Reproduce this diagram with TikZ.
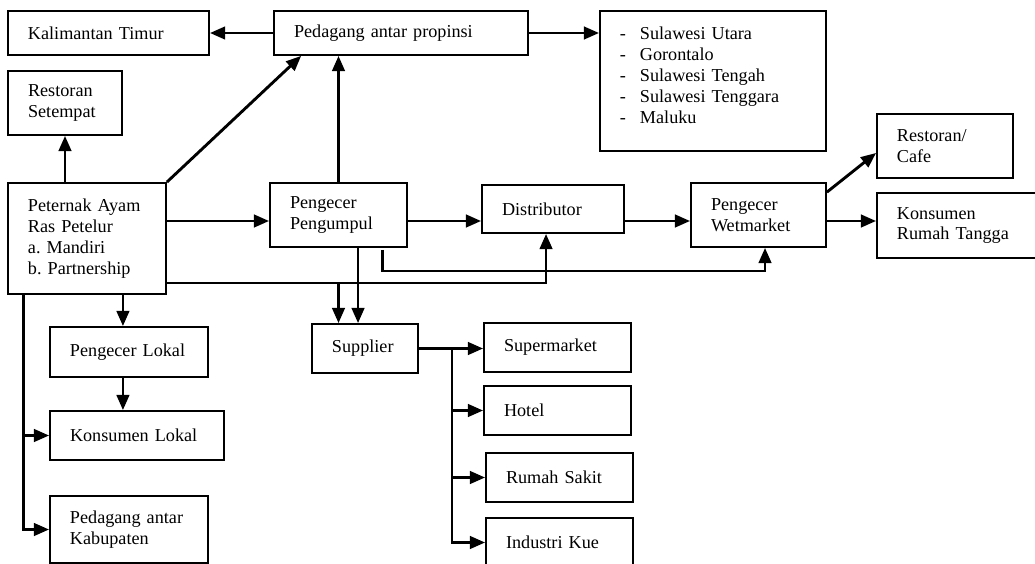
\documentclass[tikz,border=0pt]{standalone}
\usepackage{fontspec}
\setmainfont{Liberation Serif}
\usetikzlibrary{arrows.meta}
\frenchspacing
\begin{document}
\begin{tikzpicture}[x=0.66pt,y=-0.66pt,font=\fontsize{12}{13.8}\selectfont,
  blok/.style={shape=rectangle,draw,line width=1.2pt,align=left,inner xsep=13.2pt},
  arr/.style={-{Triangle[length=10pt,width=8.2pt]},line width=1.9pt}]
\useasboundingbox (0,0) rectangle (1035,564);
\clip (0,0) rectangle (1035,564);
\node (A) at (108.5,33) [blok,text width=106.3pt,minimum height=29pt]{Kalimantan Timur};
\node (B) at (401,33) [blok,text width=141.2pt,minimum height=29pt]{Pedagang antar propinsi};
\node (C) at (713,81) [blok,text width=122.8pt,minimum height=92.4pt]{\makebox[13.2pt][l]{-}Sulawesi Utara\\
  \makebox[13.2pt][l]{-}Gorontalo\\
  \makebox[13.2pt][l]{-}Sulawesi Tengah\\
  \makebox[13.2pt][l]{-}Sulawesi Tenggara\\
  \makebox[13.2pt][l]{-}Maluku\\[-5.8pt]\mbox{}};
\node (D) at (65,103) [blok,text width=48.8pt,minimum height=42.2pt]{Restoran\\Setempat};
\node (E) at (87,238.5) [blok,text width=77.9pt,minimum height=73.3pt]{Peternak Ayam\\Ras Petelur\\a. Mandiri\\b. Partnership};
\node (F) at (338.5,215) [blok,text width=64pt,minimum height=42.2pt]{Pengecer\\Pengumpul};
\node (G) at (553,209) [blok,text width=67.3pt,minimum height=31.7pt]{Distributor};
\node (H) at (758.5,215) [blok,text width=62.7pt,minimum height=42.2pt]{Pengecer\\Wetmarket};
\node (I) at (945,146) [blok,text width=63.4pt,minimum height=42.2pt]{Restoran/\\Cafe};
\node (J) at (958.5,225.5) [blok,text width=81.2pt,minimum height=42.9pt]{Konsumen\\Rumah Tangga};
\node (K) at (129,352) [blok,text width=77.9pt,minimum height=33pt]{Pengecer Lokal};
\node (L) at (137,435.5) [blok,text width=88.4pt,minimum height=32.3pt]{Konsumen Lokal};
\node (M) at (129,529.5) [blok,text width=77.9pt,minimum height=44.2pt]{Pedagang antar\\Kabupaten};
\node (N) at (365,348.5) [blok,text width=43.6pt,minimum height=32.3pt]{Supplier};
\node (O) at (557.5,347.5) [blok,text width=70.6pt,minimum height=32.3pt]{Supermarket};
\node (P) at (557.5,410.5) [blok,text width=70.6pt,minimum height=32.3pt]{Hotel};
\node (Q) at (559.5,477.5) [blok,text width=70.6pt,minimum height=32.3pt]{Rumah Sakit};
\node (R) at (559.5,542.5) [blok,text width=70.6pt,minimum height=32.3pt]{Industri Kue};
% helper points
\coordinate (m) at (0,221);
\coordinate (p) at (0,271);
\coordinate (q) at (0,283);
\coordinate (h) at ([xshift=4.3pt]H.south);
\coordinate (n) at ([xshift=-4.6pt]N.north);
\coordinate (t) at ([xshift=10.6pt]E.south west);
\coordinate (c) at ([xshift=-4pt]K.north);
\coordinate (s) at ([xshift=21.8pt]N.east);
% top row
\draw [arr] (B) to (A);
\draw [arr] (B.east) to (B.east -| C.west);
\draw [arr] (E.north -| D.south) to (D.south);
\draw [arr] (E.north east) to ([xshift=18.5pt]B.south west);
\draw [arr] (F.north) to (F.north |- B.south);
% middle row
\draw [arr] (E.east |- m) to (F.west |- m);
\draw [arr] (F.east |- m) to (G.west |- m);
\draw [arr] (G.east |- m) to (H.west |- m);
\draw [arr] (H.east |- m) to (J.west |- m);
\draw [arr] ([yshift=-6.6pt]H.north east) to ([yshift=-4.6pt]I.west);
\draw [arr] ([xshift=-16.5pt,yshift=-1.3pt]F.south east) |- (h |- p) -- (h);
\draw [arr] (E.east |- q) -| ([xshift=-4.6pt]G.south);
\draw [arr] (F.north |- q) to (F.north |- N.north);
\draw [arr] (n |- F.south) to (n);
% local branch
\draw [arr] (c |- E.south) to (c);
\draw [arr] (c |- K.south) to (c |- L.north);
\draw [arr] (t) |- (M.west);
\draw [arr] (t |- L.west) to (L.west);
% supplier branch
\draw [arr] (N.east) to (N.east -| O.west);
\draw [arr] (s) |- (R.west);
\draw [arr] (s |- P.west) to (P.west);
\draw [arr] (s |- Q.west) to (Q.west);
\end{tikzpicture}
\end{document}
